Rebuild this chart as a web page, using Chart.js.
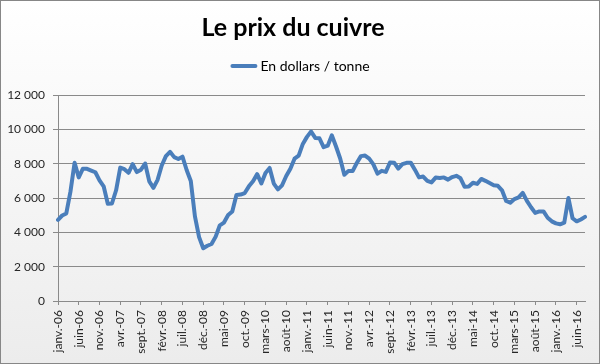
<!DOCTYPE html>
<html lang="fr">
<head>
<meta charset="utf-8">
<title>Le prix du cuivre</title>
<script src="https://cdn.jsdelivr.net/npm/chart.js@4.4.1/dist/chart.umd.min.js"></script>
<style>
  html, body { margin: 0; padding: 0; background: #fff; }
  #cadre {
    position: relative;
    width: 600px; height: 364px;
    box-sizing: border-box;
    border: 1px solid #878787;
    background: linear-gradient(#ffffff, #ececec);
  }
</style>
</head>
<body>
<div id="cadre"><canvas id="graphe"></canvas></div>
<script>
// données : prix mensuel du cuivre, janv. 2006 -> août 2016
const mois   = ['janv.', 'févr.', 'mars', 'avr.', 'mai', 'juin', 'juil.', 'août', 'sept.', 'oct.', 'nov.', 'déc.'];
const annees = ['06', '07', '08', '09', '10', '11', '12', '13', '14', '15', '16'];
const prix = [
  4730, 4980, 5100, 6370, 8050, 7200, 7710, 7700, 7600, 7500, 7030, 6680,  // 2006
  5670, 5680, 6450, 7770, 7680, 7470, 7970, 7510, 7650, 8010, 6970, 6590,  // 2007
  7060, 7890, 8440, 8690, 8380, 8270, 8410, 7630, 6990, 4930, 3720, 3070,  // 2008
  3220, 3320, 3750, 4410, 4570, 5010, 5220, 6170, 6200, 6290, 6680, 6980,  // 2009
  7390, 6850, 7460, 7750, 6840, 6500, 6740, 7280, 7710, 8290, 8470, 9150,  // 2010
  9560, 9870, 9500, 9480, 8960, 9050, 9650, 9000, 8300, 7350, 7580, 7570,  // 2011
  8040, 8440, 8470, 8290, 7960, 7420, 7580, 7520, 8070, 8060, 7710, 7970,  // 2012
  8050, 8060, 7650, 7200, 7250, 7000, 6910, 7190, 7160, 7200, 7070, 7220,  // 2013
  7290, 7150, 6650, 6670, 6890, 6820, 7110, 7000, 6870, 6740, 6710, 6450,  // 2014
  5830, 5730, 5940, 6040, 6300, 5830, 5460, 5130, 5220, 5220, 4850, 4640,  // 2015
  4520, 4470, 4560, 6000, 4820, 4640, 4750, 4900                           // 2016
];
const serie = 'En dollars / tonne';

const etiquettes = [];
annees.forEach(a => mois.forEach(m => {
  if (etiquettes.length < prix.length) etiquettes.push(m + '-' + a);
}));

const bleu = '#4a7ebb';
const gris = '#8a8a8a';
const police = 'Lato, "Open Sans", sans-serif';

// petite légende : trait épais + texte, centrée sous le titre
const legendeTrait = {
  id: 'legendeTrait',
  afterDraw(chart) {
    const ctx = chart.ctx;
    ctx.save();
    ctx.font = '14px ' + police;
    const w = ctx.measureText(serie).width;
    const trait = 27, ecart = 3;
    const x0 = (chart.width - (trait + ecart + w)) / 2;
    const y = 65;
    ctx.strokeStyle = bleu;
    ctx.lineWidth = 4;
    ctx.lineCap = 'round';
    ctx.beginPath();
    ctx.moveTo(x0 + 2, y);
    ctx.lineTo(x0 + trait - 2, y);
    ctx.stroke();
    ctx.fillStyle = '#000';
    ctx.textBaseline = 'middle';
    ctx.fillText(serie, x0 + trait + ecart, y);
    ctx.restore();
  }
};

new Chart(document.getElementById('graphe'), {
  type: 'line',
  data: {
    labels: etiquettes,
    datasets: [{
      label: serie,
      data: prix,
      borderColor: bleu,
      backgroundColor: bleu,
      borderWidth: 4,
      borderJoinStyle: 'round',
      borderCapStyle: 'round',
      pointRadius: 0,
      tension: 0
    }]
  },
  options: {
    responsive: true,
    maintainAspectRatio: false,
    animation: false,
    layout: { padding: { left: 0, right: 14, top: 0, bottom: 0 } },
    plugins: {
      legend: { display: false },
      tooltip: { enabled: false },
      title: {
        display: true,
        text: 'Le prix du cuivre',
        color: '#000',
        font: { family: police, size: 25, weight: 'bold' },
        padding: { top: 12, bottom: 52 }
      }
    },
    scales: {
      x: {
        afterFit: s => { s.height = 62; },
        grid: { drawOnChartArea: false, tickLength: 4, color: gris },
        border: { color: gris },
        ticks: {
          autoSkip: false,
          minRotation: 90, maxRotation: 90,
          padding: 5,
          color: '#262626',
          font: { family: police, size: 12 },
          callback: (v, i) => i % 5 === 0 ? etiquettes[i] : null
        }
      },
      y: {
        min: 0, max: 12000,
        afterFit: s => { s.width = 57; },
        grid: { color: gris, tickLength: 5 },
        border: { color: gris },
        ticks: {
          stepSize: 2000,
          padding: 8,
          color: '#262626',
          font: { family: police, size: 12 },
          callback: v => String(v).replace(/\B(?=(\d{3})+(?!\d))/g, ' ')
        }
      }
    }
  },
  plugins: [legendeTrait]
});
</script>
</body>
</html>
